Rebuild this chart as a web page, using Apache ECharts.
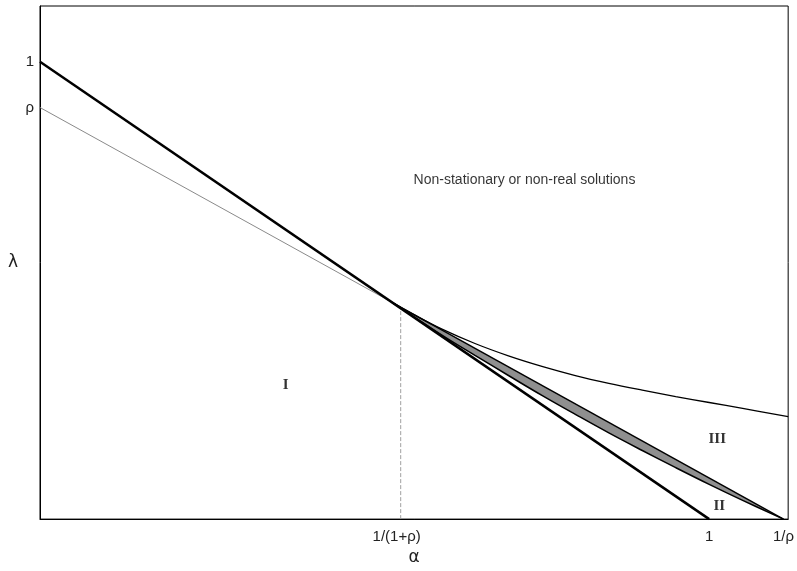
<!DOCTYPE html>
<html>
<head>
<meta charset="utf-8">
<script src="https://cdn.jsdelivr.net/npm/echarts@6/dist/echarts.min.js"></script>
<style>html,body{margin:0;padding:0;background:#fff}#c{width:797px;height:571px}</style>
</head>
<body>
<div id="c"></div>
<script>
// Axis ticks (custom labels)
const xTickValues = [0.533, 1, 1.111];
const xTickLabels = ['1/(1+ρ)', '1', '1/ρ'];
const yTickValues = [1, 0.9];
const yTickLabels = ['1', 'ρ'];

// Thick line λ = 1 - α
const line1 = [[0, 1], [1, 0]];
// Thin line from (0, ρ) to the intersection
const thinLine = [[0, 0.9], [0.526, 0.474]];
// Straight boundary from the intersection to (1/ρ, 0)
const straightLine = [[0.526, 0.474], [1.111, 0]];
// Grey band: alpha samples, upper (straight) and lower (curved) edges
const bandAlpha = [0.526, 0.6, 0.65, 0.7, 0.75, 0.8, 0.85, 0.9, 0.95, 1.0, 1.05, 1.111];
const bandUpper = [0.474, 0.414, 0.3735, 0.333, 0.2925, 0.252, 0.2115, 0.171, 0.1305, 0.090, 0.0495, 0];
const bandLower = [0.474, 0.403, 0.358, 0.314, 0.2705, 0.229, 0.1885, 0.150, 0.1125, 0.076, 0.041, 0];
// Upper curved boundary
const curveAlpha = [0.526, 0.56, 0.6, 0.65, 0.7, 0.75, 0.8, 0.85, 0.9, 0.95, 1.0, 1.05, 1.118];
const curveLambda = [0.474, 0.446, 0.416, 0.384, 0.357, 0.334, 0.314, 0.297, 0.282, 0.268, 0.255, 0.242, 0.224];
// Dashed vertical line at 1/(1+ρ)
const dashed = [[0.539, 0], [0.539, 0.461]];
// Annotations
const annoText = ['Non-stationary or non-real solutions', 'I', 'III', 'II'];
const annoPos = [[0.724, 0.741], [0.367, 0.292], [1.012, 0.174], [1.015, 0.028]];

const xMax = 1.118, yMax = 1.122;

const chart = echarts.init(document.getElementById('c'), null, {renderer: 'canvas'});

const curveData = curveAlpha.map((a, i) => [a, curveLambda[i]]);

const option = {
  animation: false,
  backgroundColor: '#fff',
  grid: {left: 40, right: 8, top: 6, bottom: 50, show: true, borderColor: '#000', borderWidth: 1},
  xAxis: {
    type: 'value', min: 0, max: xMax,
    name: 'α', nameLocation: 'middle', nameGap: 25,
    nameTextStyle: {fontFamily: 'DejaVu Sans', fontSize: 17, color: '#222'},
    splitLine: {show: false},
    axisLine: {show: true, onZero: false, lineStyle: {color: '#000', width: 1}},
    axisTick: {show: false},
    axisLabel: {
      customValues: xTickValues,
      formatter: v => { const i = xTickValues.indexOf(v); return i >= 0 ? xTickLabels[i] : ''; },
      fontFamily: 'Liberation Sans', fontSize: 15, color: '#222', margin: 10,
      showMinLabel: true, showMaxLabel: true
    }
  },
  yAxis: {
    type: 'value', min: 0, max: yMax,
    name: 'λ', nameLocation: 'middle', nameGap: 22, nameRotate: 0,
    nameTextStyle: {fontFamily: 'DejaVu Sans', fontSize: 17, color: '#222', padding: [10, 0, 0, 0]},
    splitLine: {show: false},
    axisLine: {show: true, onZero: false, lineStyle: {color: '#000', width: 1}},
    axisTick: {show: false},
    axisLabel: {
      customValues: yTickValues,
      formatter: v => { const i = yTickValues.indexOf(v); return i >= 0 ? yTickLabels[i] : ''; },
      fontFamily: 'Liberation Sans', fontSize: 15, color: '#222', margin: 6
    }
  },
  series: [
    {
      type: 'custom', z: 2,
      data: [0],
      renderItem: function (params, api) {
        const pts = [];
        for (let i = 0; i < bandAlpha.length; i++) pts.push(api.coord([bandAlpha[i], bandUpper[i]]));
        for (let i = bandAlpha.length - 1; i >= 0; i--) pts.push(api.coord([bandAlpha[i], bandLower[i]]));
        return {type: 'polygon', shape: {points: pts}, style: {fill: '#8f8f8f', stroke: 'none'}};
      },
      silent: true
    },
    {type: 'line', data: dashed, symbol: 'none', lineStyle: {color: '#a0a0a0', width: 1, type: [4, 2]}, z: 3, silent: true},
    {type: 'line', data: thinLine, symbol: 'none', lineStyle: {color: '#8a8a8a', width: 1}, z: 3, silent: true},
    {type: 'line', data: line1, symbol: 'none', lineStyle: {color: '#000', width: 2.5}, z: 5, silent: true},
    {type: 'line', data: straightLine, symbol: 'none', lineStyle: {color: '#000', width: 1.5}, z: 4, silent: true},
    {type: 'line', data: bandAlpha.map((a, i) => [a, bandLower[i]]), symbol: 'none', smooth: 0.4, lineStyle: {color: '#000', width: 1.5}, z: 4, silent: true},
    {type: 'line', data: curveData, symbol: 'none', smooth: 0.4, lineStyle: {color: '#000', width: 1.3}, z: 4, silent: true},
    {
      type: 'scatter', symbolSize: 0, z: 6, silent: true,
      data: annoPos.map((p, i) => ({
        value: p,
        name: annoText[i],
        label: i === 0
          ? {fontFamily: 'Liberation Sans', fontSize: 14, color: '#000'}
          : {fontFamily: 'Liberation Serif', fontWeight: 'bold', fontSize: 15, color: '#000'}
      })),
      label: {show: true, position: 'inside', formatter: p => p.name, color: '#000'}
    }
  ]
};
chart.setOption(option);
</script>
</body>
</html>
